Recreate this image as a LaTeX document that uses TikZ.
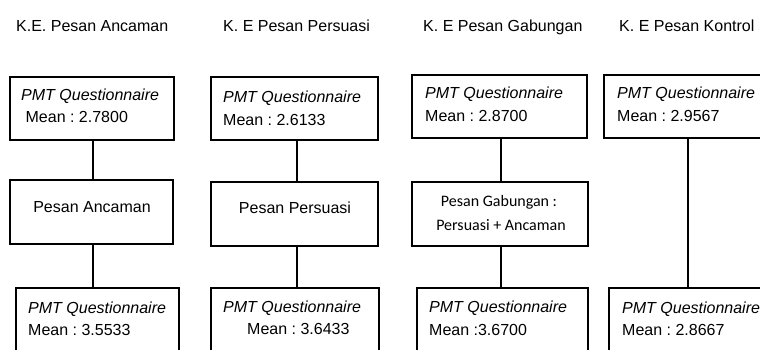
\documentclass[tikz,border=0pt]{standalone}
\usepackage{fontspec}
\setmainfont{Liberation Sans}
\newfontfamily\calib{Carlito}
\frenchspacing
\begin{document}
\begin{tikzpicture}[x=1pt,y=-1pt,
  bx/.style={draw, line width=1.6pt, rectangle, inner sep=0pt},
  tx/.style={anchor=base west, inner sep=0pt, font=\frenchspacing\fontsize{16}{19}\selectfont},
  tc/.style={anchor=base, inner sep=0pt, font=\frenchspacing\fontsize{16}{19}\selectfont},
  tg/.style={anchor=base, inner sep=0pt, font=\frenchspacing\calib\fontsize{16}{19}\selectfont},
  ln/.style={line width=1.8pt}]
\useasboundingbox (0,0) rectangle (760,350);
\clip (0,0) rectangle (760,350);
% titles
\node[tx] (h1) at (16,32) {K.E. Pesan Ancaman};
\node[tx] (h2) at (223,32) {K. E Pesan Persuasi};
\node[tx] (h3) at (423,32) {K. E Pesan Gabungan};
\node[tx] (h4) at (619,32) {K. E Pesan Kontrol};
% top boxes
\node[bx, minimum width=164pt, minimum height=63pt] (t1) at (92,108.5) {};
\node[bx, minimum width=167pt, minimum height=63pt] (t2) at (294.5,108.5) {};
\node[bx, minimum width=175pt, minimum height=63pt] (t3) at (499.5,106.5) {};
\node[bx, minimum width=176pt, minimum height=63pt] (t4) at (692,106.5) {};
% middle boxes
\node[bx, minimum width=163pt, minimum height=64pt] (m1) at (91.5,212) {};
\node[bx, minimum width=167pt, minimum height=64pt] (m2) at (294.5,214) {};
\node[bx, minimum width=176pt, minimum height=64pt] (m3) at (500,214) {};
% bottom boxes
\node[bx, minimum width=163pt, minimum height=82pt] (b1) at (97.5,329) {};
\node[bx, minimum width=168pt, minimum height=82pt] (b2) at (295,329) {};
\node[bx, minimum width=171pt, minimum height=82pt] (b3) at (502.5,329) {};
\node[bx, minimum width=171pt, minimum height=82pt] (b4) at (694.5,329) {};
% connectors
\draw[ln] ([xshift=1pt]t1.south) -- ([xshift=1pt]t1.south |- m1.north);
\draw[ln] ([xshift=1.5pt]m1.south) -- ([xshift=1.5pt]m1.south |- b1.north);
\draw[ln] ([xshift=2.5pt]t2.south) -- ([xshift=2.5pt]t2.south |- m2.north);
\draw[ln] ([xshift=2.5pt]m2.south) -- ([xshift=2.5pt]m2.south |- b2.north);
\draw[ln] ([xshift=1.5pt]t3.south) -- ([xshift=1.5pt]t3.south |- m3.north);
\draw[ln] ([xshift=1pt]m3.south) -- ([xshift=1pt]m3.south |- b3.north);
\draw[ln] ([xshift=-4pt]t4.south) -- ([xshift=-4pt]t4.south |- b4.north);
% top texts
\node[tx] (p1) at (21,101) {\itshape PMT Questionnaire};
\node[tx] (q1) at (21,123) {\ Mean : 2.7800};
\node[tx] (p2) at (223,103) {\itshape PMT Questionnaire};
\node[tx] (q2) at (223,125) {Mean : 2.6133};
\node[tx] (p3) at (425,99) {\itshape PMT Questionnaire};
\node[tx] (q3) at (425,122) {Mean : 2.8700};
\node[tx] (p4) at (617,99) {\itshape PMT Questionnaire};
\node[tx] (q4) at (617,122) {Mean : 2.9567};
% middle texts
\node[tc] (r1) at (92,212) {Pesan Ancaman};
\node[tc] (r2) at (295,213) {Pesan Persuasi};
\node[tg] (r3a) at (499,206) {Pesan Gabungan :};
\node[tg] (r3b) at (501,230) {Persuasi + Ancaman};
% bottom texts
\node[tx] (s1) at (28,313) {\itshape PMT Questionnaire};
\node[tx] (u1) at (28,335) {Mean : 3.5533};
\node[tx] (s2) at (223,312) {\itshape PMT Questionnaire};
\node[tx] (u2) at (247,334) {Mean : 3.6433};
\node[tx] (s3) at (429,312) {\itshape PMT Questionnaire};
\node[tx] (u3) at (429,335) {Mean :3.6700};
\node[tx] (s4) at (622,313) {\itshape PMT Questionnaire};
\node[tx] (u4) at (622,335) {Mean : 2.8667};
\end{tikzpicture}
\end{document}
